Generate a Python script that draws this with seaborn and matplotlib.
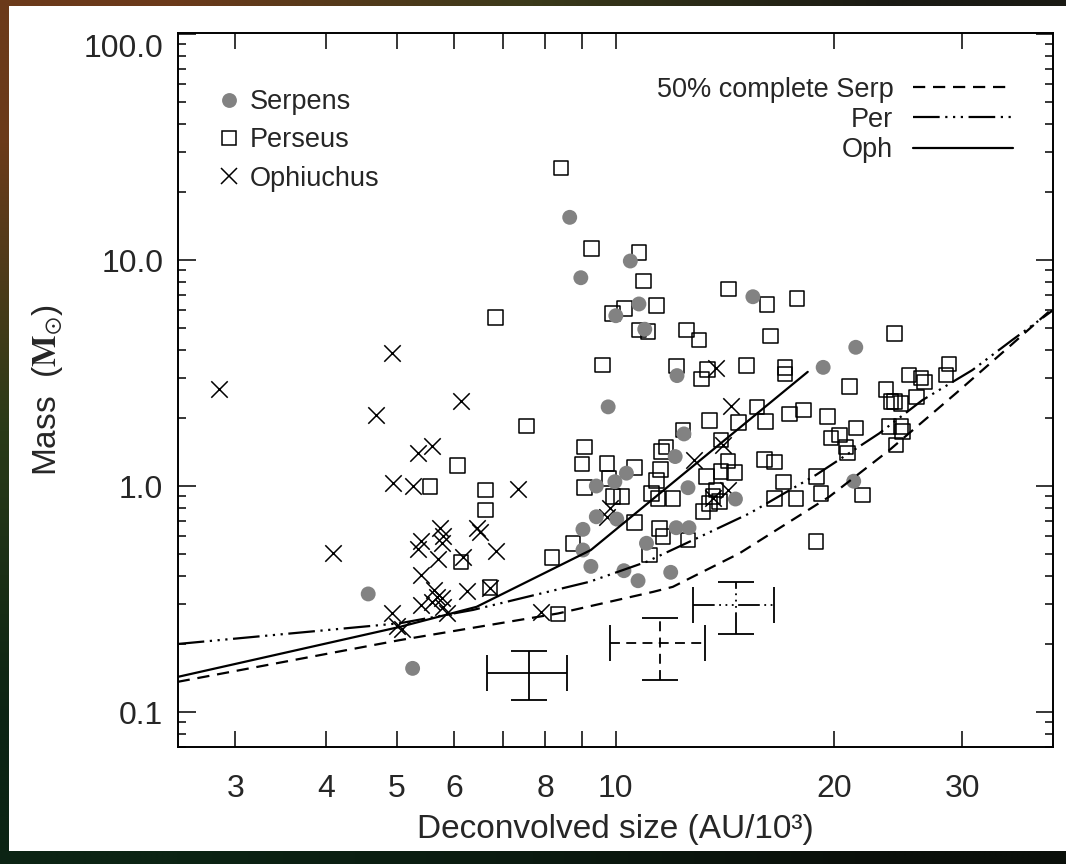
import numpy as np
import pandas as pd
import matplotlib
matplotlib.use("Agg")
import matplotlib.pyplot as plt
import seaborn as sns
from matplotlib.lines import Line2D
from matplotlib.patches import Rectangle
from matplotlib.colors import to_rgb
from matplotlib.ticker import NullLocator, LogLocator, NullFormatter

# --- cores: deconvolved size (10^3 AU) and mass (Msun) ---
serp_size = [4.57, 5.26, 8.65, 8.96, 10.48, 10.77, 10.01, 10.97, 15.45, 21.4, 19.3, 12.15,
             9.77, 12.42, 12.08, 10.35, 9.41, 9.98, 12.58, 14.62, 21.26, 9.41, 9.02, 12.12,
             12.62, 11.03, 9.02, 9.25, 10.27, 10.74, 11.91, 10.04]
serp_mass = [0.333, 0.156, 15.45, 8.35, 9.90, 6.39, 5.67, 4.94, 6.88, 4.11, 3.35, 3.08,
             2.24, 1.70, 1.35, 1.14, 1.00, 1.045, 0.983, 0.876, 1.05, 0.731, 0.643, 0.654,
             0.654, 0.558, 0.521, 0.441, 0.422, 0.381, 0.415, 0.714]

pers_size = [8.41, 6.84, 9.27, 10.77, 10.93, 9.90, 10.29, 11.38, 10.77, 11.08, 14.31, 16.16,
             17.77, 12.51, 13.02, 16.33, 9.59, 12.12, 13.37, 13.12, 15.15, 17.11, 17.11, 20.97,
             23.54, 24.17, 7.54, 6.06, 6.63, 6.63, 9.07, 8.99, 9.07, 9.74, 10.62, 9.79,
             9.92, 10.19, 11.74, 11.56, 11.53, 11.38, 11.44, 11.20, 11.99, 11.50, 11.62, 10.62,
             12.38, 13.47, 14.77, 15.66, 16.08, 17.34, 18.13, 19.57, 21.42, 19.79, 20.31, 20.75,
             20.86, 23.92, 24.17, 24.69, 25.34, 26.30, 26.58, 28.76, 28.47, 25.94, 23.79, 24.69,
             24.30, 24.82, 13.97, 14.27, 13.33, 13.97, 14.58, 16.03, 16.54, 17.03, 18.9,
             13.61, 13.90, 13.47, 13.75, 13.19, 16.54, 17.71, 19.17, 21.87, 18.87, 12.58, 8.74,
             5.56, 8.18, 6.13, 6.72, 8.34, 11.14]
pers_mass = [25.5, 5.58, 11.27, 10.77, 8.07, 5.81, 6.11, 6.28, 4.90, 4.82, 7.44, 6.37,
             6.77, 4.90, 4.43, 4.62, 3.43, 3.40, 3.28, 2.97, 3.41, 3.34, 3.13, 2.75,
             2.68, 4.74, 1.84, 1.23, 0.960, 0.783, 1.49, 1.25, 0.987, 1.26, 1.21, 1.08,
             0.897, 0.897, 1.49, 1.42, 1.18, 1.06, 0.882, 0.928, 0.882, 0.650, 0.597, 0.688,
             1.77, 1.95, 1.91, 2.24, 1.93, 2.08, 2.17, 2.03, 1.81, 1.63, 1.68, 1.49,
             1.40, 2.36, 2.36, 2.32, 3.10, 3.00, 2.88, 3.46, 3.10, 2.48, 1.83, 1.83,
             1.52, 1.74, 1.60, 1.29, 1.10, 1.16, 1.15, 1.31, 1.28, 1.04, 1.10,
             0.897, 0.852, 0.838, 0.960, 0.770, 0.882, 0.882, 0.928, 0.912, 0.567, 0.577, 0.558,
             0.993, 0.482, 0.462, 0.356, 0.271, 0.495]

oph_size = [2.85, 4.93, 4.69, 6.14, 5.35, 5.59, 4.95, 5.26, 7.35, 4.09, 5.41, 5.35,
            5.73, 5.80, 5.77, 5.70, 6.44, 6.51, 6.17, 6.86, 5.41, 6.24, 6.72, 5.62,
            5.68, 5.77, 5.41, 5.59, 5.80, 5.86, 4.92, 5.00, 5.08, 7.91, 13.76, 14.42,
            12.84, 14.05, 9.82, 9.72, 14.27, 13.61]
oph_mass = [2.68, 3.89, 2.06, 2.38, 1.40, 1.50, 1.03, 1.00, 0.967, 0.507, 0.573, 0.525,
            0.650, 0.601, 0.558, 0.474, 0.650, 0.628, 0.487, 0.517, 0.404, 0.344, 0.353, 0.347,
            0.324, 0.318, 0.298, 0.308, 0.292, 0.273, 0.275, 0.240, 0.232, 0.278, 3.34, 2.26,
            1.30, 1.52, 0.797, 0.731, 0.960, 0.882]

# 50% completeness curves
serp_lim_size = [2.5, 5.05, 8.34, 11.26, 11.99, 12.78, 14.81, 19.68, 23.79, 29.38, 34.77, 40.0]
serp_lim_mass = [0.136, 0.208, 0.273, 0.340, 0.358, 0.397, 0.504, 0.897, 1.44, 2.57, 4.13, 6.15]
per_lim_size = [2.5, 5.05, 6.37, 9.21, 11.03, 12.64, 15.29, 18.87, 23.05, 26.43, 30.96, 35.13, 40.0]
per_lim_mass = [0.200, 0.247, 0.283, 0.377, 0.462, 0.567, 0.757, 1.12, 1.71, 2.40, 3.26, 4.43, 6.01]
oph_lim_size = [2.5, 5.05, 6.44, 9.25, 18.38]
oph_lim_mass = [0.143, 0.238, 0.292, 0.521, 3.20]

# typical uncertainties (Oph, Serp, Per)
err_size = [7.61, 11.52, 14.65]
err_size_lo = [6.65, 9.82, 12.80]
err_size_hi = [8.58, 13.29, 16.54]
err_mass = [0.149, 0.201, 0.297]
err_mass_lo = [0.113, 0.1385, 0.221]
err_mass_hi = [0.187, 0.260, 0.377]

xtick_vals = [3, 4, 5, 6, 7, 8, 9, 10, 20, 30]
xtick_labels = ['3', '4', '5', '6', '', '8', '', '10', '20', '30']
ytick_vals = [0.1, 1, 10, 100]
ytick_labels = ['0.1', '1.0', '10.0', '100.0']

# dark nebula-ish backdrop colours (3x3, smoothed)
bg_colors = [['#6b3a1a', '#3b3a1a', '#1a1a14'],
             ['#2a3a18', '#182414', '#101410'],
             ['#0c2414', '#0a1a10', '#0a0f0a']]

sns.set_style("ticks")
plt.rcParams['font.family'] = ['Liberation Sans', 'DejaVu Sans']
plt.rcParams['mathtext.fontset'] = 'stix'

dashed = (0, (5.5, 3.5))
dash3dot = (0, (12, 2.5, 1, 2.5, 1, 2.5, 1, 2.5))

fig = plt.figure(figsize=(10.66, 8.64), dpi=100, facecolor='#141a0e')
bg = fig.add_axes([0, 0, 1, 1], zorder=-10)
bg.imshow(np.array([[to_rgb(c) for c in row] for row in bg_colors]),
          aspect='auto', interpolation='bilinear')
bg.set_axis_off()
fig.add_artist(Rectangle((0.0084, 0.015), 0.9916, 0.978, transform=fig.transFigure,
                         facecolor='white', edgecolor='none', zorder=-5))
ax = fig.add_axes([0.1667, 0.1354, 0.8214, 0.8260])
ax.set_facecolor('white')

df_per = pd.DataFrame({'size': pers_size, 'mass': pers_mass})
df_oph = pd.DataFrame({'size': oph_size, 'mass': oph_mass})
df_serp = pd.DataFrame({'size': serp_size, 'mass': serp_mass})

sns.scatterplot(data=df_per, x='size', y='mass', ax=ax, marker='s', s=110,
                facecolor='none', edgecolor='black', linewidth=1.1, legend=False, zorder=3)
sns.scatterplot(data=df_oph, x='size', y='mass', ax=ax, marker='x', s=140,
                color='black', linewidth=1.1, legend=False, zorder=3)
sns.scatterplot(data=df_serp, x='size', y='mass', ax=ax, marker='o', s=115,
                color='#828282', edgecolor='none', linewidth=0, legend=False, zorder=3)

sns.lineplot(x=serp_lim_size, y=serp_lim_mass, ax=ax, color='black', lw=1.6,
             linestyle=dashed, legend=False, estimator=None, sort=False, zorder=4)
sns.lineplot(x=per_lim_size, y=per_lim_mass, ax=ax, color='black', lw=1.6,
             linestyle=dash3dot, legend=False, estimator=None, sort=False, zorder=4)
sns.lineplot(x=oph_lim_size, y=oph_lim_mass, ax=ax, color='black', lw=1.6,
             linestyle='-', legend=False, estimator=None, sort=False, zorder=4)

for i, ls in enumerate(['-', dashed, dash3dot]):
    eb = ax.errorbar(err_size[i], err_mass[i],
                     xerr=[[err_size[i] - err_size_lo[i]], [err_size_hi[i] - err_size[i]]],
                     yerr=[[err_mass[i] - err_mass_lo[i]], [err_mass_hi[i] - err_mass[i]]],
                     fmt='none', ecolor='black', elinewidth=1.3, capsize=13, capthick=1.3)
    for coll in eb[2]:
        coll.set_linestyle(ls)

ax.set_xscale('log')
ax.set_yscale('log')
ax.set_xlim(2.5, 40)
ax.set_ylim(0.07, 100.7)
ax.set_xticks(xtick_vals, labels=xtick_labels)
ax.xaxis.set_minor_locator(NullLocator())
ax.set_yticks(ytick_vals, labels=ytick_labels)
ax.yaxis.set_minor_locator(LogLocator(base=10, subs=np.arange(2, 10)))
ax.yaxis.set_minor_formatter(NullFormatter())
ax.tick_params(which='both', direction='in', top=True, right=True, width=1.1, color='black')
ax.tick_params(axis='x', which='major', length=11.3, pad=19.5, labelsize=23)
ax.tick_params(axis='y', which='major', length=12.6, pad=10.4, labelsize=23)
ax.tick_params(axis='y', which='minor', length=5.8)
ax.get_yticklabels()[-1].set_verticalalignment('top')
for sp in ax.spines.values():
    sp.set_linewidth(1.4)
    sp.set_color('black')

ax.set_xlabel('Deconvolved size (AU/10³)', fontsize=24, labelpad=7)
ax.set_ylabel(r'Mass  ($\mathbf{M}_{\odot}$)', fontsize=24, labelpad=13)

sym_handles = [
    Line2D([], [], ls='none', marker='o', ms=10.7, mfc='#828282', mec='none'),
    Line2D([], [], ls='none', marker='s', ms=10.5, mfc='none', mec='black', mew=1.1),
    Line2D([], [], ls='none', marker='x', ms=11.8, mec='black', mew=1.1),
]
leg1 = ax.legend(sym_handles, ['Serpens', 'Perseus', 'Ophiuchus'], loc='upper left',
                 bbox_to_anchor=(0.0463, 0.922), frameon=False, fontsize=19.5,
                 handlelength=0.8, handletextpad=0.37, labelspacing=0.46,
                 borderpad=0, borderaxespad=0)
ax.add_artist(leg1)

line_handles = [
    Line2D([], [], color='black', lw=1.6, ls=dashed),
    Line2D([], [], color='black', lw=1.6, ls=dash3dot),
    Line2D([], [], color='black', lw=1.6, ls='-'),
]
ax.legend(line_handles, ['50% complete Serp', 'Per', 'Oph'], loc='upper right',
          bbox_to_anchor=(0.9543, 0.9394), frameon=False, fontsize=19.5, markerfirst=False,
          handlelength=3.69, handletextpad=0.74, labelspacing=0.16,
          borderpad=0, borderaxespad=0)

fig.savefig('out.png', dpi=100, facecolor=fig.get_facecolor())
